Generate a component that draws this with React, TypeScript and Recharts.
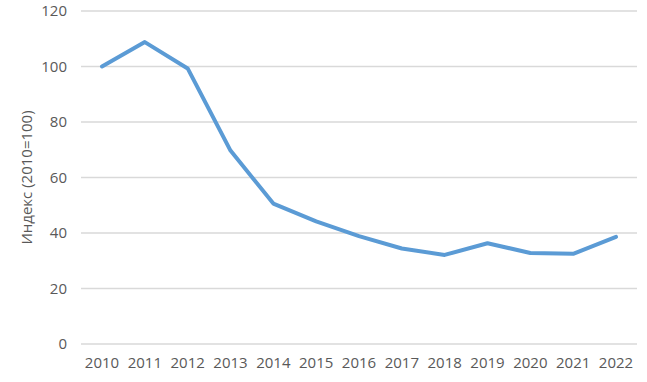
import React from "react";
import { LineChart, Line, XAxis, YAxis, CartesianGrid } from "recharts";

const years = ["2010", "2011", "2012", "2013", "2014", "2015", "2016", "2017", "2018", "2019", "2020", "2021", "2022"];
const indexValues = [100, 108.8, 99.3, 69.7, 50.6, 44.2, 38.9, 34.4, 32.1, 36.3, 32.8, 32.5, 38.6];
const yTicks = [0, 20, 40, 60, 80, 100, 120];

const data = years.map((y, i) => ({ year: y, value: indexValues[i] }));

const font = "'Open Sans', sans-serif";

export default function App() {
  return (
    <div style={{ position: "absolute", left: 0, top: 0, background: "#fff" }}>
      <LineChart width={647} height={382} data={data} margin={{ top: 11, right: 10, bottom: 4, left: 0 }}>
        <CartesianGrid vertical={false} stroke="#d9d9d9" strokeWidth={1.3} />
        <XAxis
          dataKey="year"
          axisLine={false}
          tickLine={false}
          tickSize={0}
          tickMargin={13}
          height={34}
          padding={{ left: 21, right: 21 }}
          interval={0}
          tick={{ fill: "#595959", fontSize: 15, fontFamily: font }}
        />
        <YAxis
          width={81}
          domain={[0, 120]}
          ticks={yTicks}
          axisLine={false}
          tickLine={false}
          tickSize={0}
          tickMargin={14}
          tick={{ fill: "#595959", fontSize: 15, fontFamily: font }}
          label={{
            value: "Индекс (2010=100)",
            angle: -90,
            position: "insideLeft",
            offset: 27,
            style: { textAnchor: "middle", fill: "#595959", fontSize: 15, fontFamily: font },
          }}
        />
        <Line
          type="linear"
          dataKey="value"
          stroke="#5b9bd5"
          strokeWidth={4}
          dot={false}
          isAnimationActive={false}
          strokeLinejoin="round"
          strokeLinecap="round"
        />
      </LineChart>
    </div>
  );
}
